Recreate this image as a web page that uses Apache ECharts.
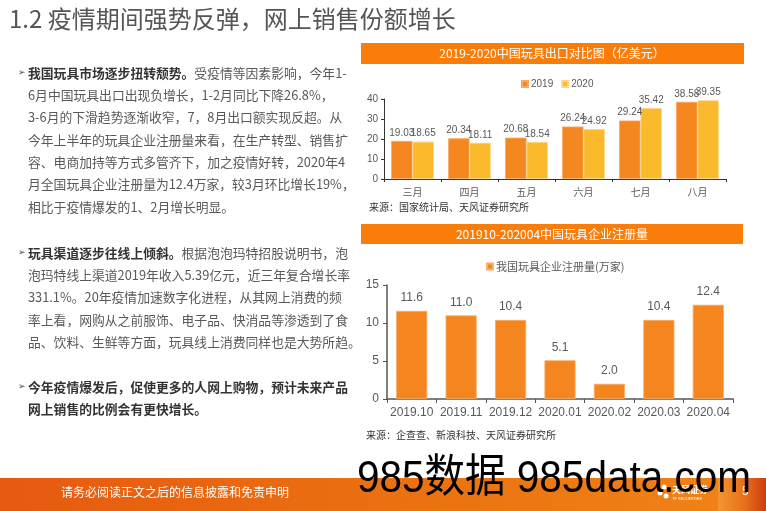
<!DOCTYPE html>
<html>
<head>
<meta charset="utf-8">
<script src="https://cdn.jsdelivr.net/npm/echarts@6/dist/echarts.min.js"></script>
<style>
html,body{margin:0;padding:0;background:#fff;}
#main{width:766px;height:511px;}
</style>
</head>
<body>
<div id="main"></div>
<script>
// ---- data ----
const exportMonths = ['三月', '四月', '五月', '六月', '七月', '八月'];
const export2019 = [19.03, 20.34, 20.68, 26.24, 29.24, 38.58];
const export2020 = [18.65, 18.11, 18.54, 24.92, 35.42, 39.35];
const exportTicks = [0, 10, 20, 30, 40];

const regMonths = ['2019.10', '2019.11', '2019.12', '2020.01', '2020.02', '2020.03', '2020.04'];
const regValues = [11.6, 11.0, 10.4, 5.1, 2.0, 10.4, 12.4];
const regTicks = [0, 5, 10, 15];

const pageTitle = '1.2 疫情期间强势反弹，网上销售份额增长';
const chart1Title = '2019-2020中国玩具出口对比图（亿美元）';
const chart2Title = '201910-202004中国玩具企业注册量';
const source1 = '来源：国家统计局、天风证券研究所';
const source2 = '来源：企查查、新浪科技、天风证券研究所';
const footerText = '请务必阅读正文之后的信息披露和免责申明';
const watermark = '985数据 985data.com';

const paragraphs = [
  [
    ['我国玩具市场逐步扭转颓势。', '受疫情等因素影响，今年1-'],
    ['', '6月中国玩具出口出现负增长，1-2月同比下降26.8%，'],
    ['', '3-6月的下滑趋势逐渐收窄，7，8月出口额实现反超。从'],
    ['', '今年上半年的玩具企业注册量来看，在生产转型、销售扩'],
    ['', '容、电商加持等方式多管齐下，加之疫情好转，2020年4'],
    ['', '月全国玩具企业注册量为12.4万家，较3月环比增长19%，'],
    ['', '相比于疫情爆发的1、2月增长明显。']
  ],
  [
    ['玩具渠道逐步往线上倾斜。', '根据泡泡玛特招股说明书，泡'],
    ['', '泡玛特线上渠道2019年收入5.39亿元，近三年复合增长率'],
    ['', '331.1%。20年疫情加速数字化进程，从其网上消费的频'],
    ['', '率上看，网购从之前服饰、电子品、快消品等渗透到了食'],
    ['', '品、饮料、生鲜等方面，玩具线上消费同样也是大势所趋。']
  ],
  [
    ['今年疫情爆发后，促使更多的人网上购物，预计未来产品', ''],
    ['网上销售的比例会有更快增长。', '']
  ]
];
const paraTops = [73, 253, 387];
const lineH = 22.3;

const CJK = '"Noto Sans CJK SC", "Noto Sans", sans-serif';
const LAT = '"Liberation Sans", Arial, "Noto Sans CJK SC", sans-serif';

const chart = echarts.init(document.getElementById('main'), null, {renderer: 'canvas'});

const graphics = [];
// page title
graphics.push({type: 'text', x: 9, y: 19, style: {text: pageTitle, fill: '#555', font: '24px ' + CJK, verticalAlign: 'middle'}});

// left paragraphs
paragraphs.forEach((para, pi) => {
  graphics.push({type: 'text', x: 18, y: paraTops[pi], style: {text: '➢', fill: '#444', font: '9px "DejaVu Sans"', verticalAlign: 'middle'}});
  para.forEach((ln, li) => {
    let t = '';
    if (ln[0]) t += '{b|' + ln[0] + '}';
    if (ln[1]) t += '{n|' + ln[1] + '}';
    graphics.push({
      type: 'text', x: 28, y: paraTops[pi] + li * lineH,
      style: {
        text: t, verticalAlign: 'middle',
        rich: {
          b: {fill: '#333', fontWeight: 'bold', fontSize: 12.8, fontFamily: CJK},
          n: {fill: '#595959', fontSize: 12.8, fontFamily: CJK}
        }
      }
    });
  });
});

// chart headers
graphics.push({type: 'rect', shape: {x: 361, y: 43, width: 383, height: 21}, style: {fill: '#FA7D0A'}});
graphics.push({type: 'text', x: 552, y: 53.5, style: {text: chart1Title, fill: '#fff', font: '12px ' + CJK, align: 'center', verticalAlign: 'middle'}});
graphics.push({type: 'rect', shape: {x: 361, y: 224, width: 382, height: 20}, style: {fill: '#FA7D0A'}});
graphics.push({type: 'text', x: 552, y: 234, style: {text: chart2Title, fill: '#fff', font: '12px ' + CJK, align: 'center', verticalAlign: 'middle'}});

// sources
graphics.push({type: 'text', x: 369, y: 207, style: {text: source1, fill: '#333', font: '10px ' + CJK, verticalAlign: 'middle'}});
graphics.push({type: 'text', x: 366, y: 435, style: {text: source2, fill: '#333', font: '10px ' + CJK, verticalAlign: 'middle'}});

// footer
graphics.push({type: 'rect', shape: {x: 0, y: 478, width: 766, height: 33},
  style: {fill: new echarts.graphic.LinearGradient(0, 0, 1, 0, [{offset: 0, color: '#E65A10'}, {offset: 0.6, color: '#EC7410'}, {offset: 1, color: '#F08418'}])}});
graphics.push({type: 'rect', shape: {x: 718, y: 478, width: 48, height: 33},
  style: {fill: new echarts.graphic.LinearGradient(0, 0, 1, 0, [{offset: 0, color: '#F29530'}, {offset: 0.55, color: '#E8701A'}, {offset: 1, color: '#CC3E10'}])}});
graphics.push({type: 'text', x: 61, y: 492, style: {text: footerText, fill: '#fff', font: '12px ' + CJK, verticalAlign: 'middle'}});
graphics.push({type: 'text', x: 672, y: 490, style: {text: '天风证券', fill: '#fff', font: 'bold 9px ' + CJK, verticalAlign: 'middle'}});
graphics.push({type: 'text', x: 672, y: 499, style: {text: 'TF SECURITIES', fill: '#fff', font: '4px ' + LAT, verticalAlign: 'middle'}});
graphics.push({type: 'circle', shape: {cx: 664, cy: 487, r: 2.5}, style: {fill: '#fff'}});
graphics.push({type: 'circle', shape: {cx: 660, cy: 493, r: 2.5}, style: {fill: '#fff'}});
graphics.push({type: 'circle', shape: {cx: 666, cy: 496, r: 2.5}, style: {fill: '#fff'}});
graphics.push({type: 'text', x: 742, y: 492, style: {text: '5', fill: '#fff', font: '12px ' + LAT, verticalAlign: 'middle'}});

// watermark
graphics.push({type: 'text', x: 357, y: 480, scaleX: 0.9, z: 100,
  style: {text: watermark, fill: '#000', font: '45px ' + LAT, verticalAlign: 'middle'}});

const axisGray = '#595959';

const option = {
  animation: false,
  backgroundColor: '#fff',
  textStyle: {fontFamily: LAT},
  grid: [
    {left: 384, top: 99, width: 342, height: 80},
    {left: 387, top: 285, width: 346, height: 114}
  ],
  legend: [
    {
      data: ['2019', '2020'], left: 516, top: 74, icon: 'rect',
      itemWidth: 6, itemHeight: 6, itemGap: 8,
      textStyle: {fontSize: 10, color: axisGray, padding: [0, 0, 0, -2]}
    },
    {
      data: ['我国玩具企业注册量(万家)'], left: 481, top: 256, icon: 'rect',
      itemWidth: 6, itemHeight: 6, itemGap: 8,
      textStyle: {fontSize: 11, color: axisGray, fontFamily: CJK, padding: [0, 0, 0, -2]}
    }
  ],
  xAxis: [
    {
      type: 'category', gridIndex: 0, data: exportMonths,
      axisLine: {lineStyle: {color: '#333', width: 1}},
      axisTick: {show: true, length: 3, lineStyle: {color: '#333'}},
      axisLabel: {fontSize: 10, color: axisGray, margin: 8, fontFamily: CJK, interval: 0}
    },
    {
      type: 'category', gridIndex: 1, data: regMonths,
      axisLine: {lineStyle: {color: '#555', width: 1.5}},
      axisTick: {show: true, length: 4, lineStyle: {color: '#555'}},
      axisLabel: {fontSize: 12, color: axisGray, margin: 8, interval: 0}
    }
  ],
  yAxis: [
    {
      type: 'value', gridIndex: 0, min: exportTicks[0], max: exportTicks[exportTicks.length - 1], interval: exportTicks[1] - exportTicks[0],
      splitLine: {show: false},
      axisLine: {show: true, lineStyle: {color: '#333'}},
      axisTick: {show: true, length: 3, lineStyle: {color: '#333'}},
      axisLabel: {fontSize: 10, color: axisGray, margin: 6}
    },
    {
      type: 'value', gridIndex: 1, min: regTicks[0], max: regTicks[regTicks.length - 1], interval: regTicks[1] - regTicks[0],
      splitLine: {show: false},
      axisLine: {show: true, lineStyle: {color: '#555', width: 1.5}},
      axisTick: {show: true, length: 4, lineStyle: {color: '#555'}},
      axisLabel: {fontSize: 12, color: axisGray, margin: 8}
    }
  ],
  series: [
    {
      name: '2019', type: 'bar', xAxisIndex: 0, yAxisIndex: 0, data: export2019,
      barGap: '0%', barCategoryGap: '25%',
      itemStyle: {color: '#F58720', borderColor: '#F9A862', borderWidth: 0.8},
      label: {show: true, position: 'top', distance: 3, fontSize: 10, color: axisGray, formatter: p => p.value.toFixed(2)}
    },
    {
      name: '2020', type: 'bar', xAxisIndex: 0, yAxisIndex: 0, data: export2020,
      barGap: '0%', barCategoryGap: '25%',
      itemStyle: {color: '#FABA2C', borderColor: '#FCD78A', borderWidth: 0.8},
      label: {show: true, position: 'top', distance: 3, fontSize: 10, color: axisGray, formatter: p => p.value.toFixed(2)}
    },
    {
      name: '我国玩具企业注册量(万家)', type: 'bar', xAxisIndex: 1, yAxisIndex: 1, data: regValues,
      barCategoryGap: '37%',
      itemStyle: {color: '#F5861F', borderColor: '#F9AE6A', borderWidth: 0.8},
      label: {show: true, position: 'top', distance: 7, fontSize: 12, color: axisGray, formatter: p => p.value.toFixed(1)}
    }
  ],
  graphic: graphics
};
chart.setOption(option);
</script>
</body>
</html>
